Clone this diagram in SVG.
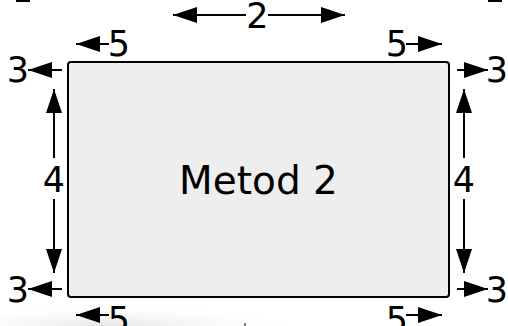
<svg xmlns="http://www.w3.org/2000/svg" width="508" height="326" viewBox="0 0 508 326">
<style>
.t{font-family:"DejaVu Sans",sans-serif;fill:#000;text-anchor:middle}
.d{font-size:35px}
.c{stroke:#000;stroke-width:2;fill:none;marker-end:url(#ah)}
</style>
<defs>
<marker id="ah" markerUnits="userSpaceOnUse" markerWidth="26" markerHeight="18" refX="24" refY="8" orient="auto">
<path d="M0,0 L24,8 L0,16 z" fill="#000"/>
</marker>
<radialGradient id="sh" cx="0.35" cy="1" r="0.6">
<stop offset="0" stop-color="#e4e4e4"/>
<stop offset="1" stop-color="#ffffff" stop-opacity="0"/>
</radialGradient>
</defs>
<rect width="508" height="326" fill="#fff"/>
<rect x="0" y="290" width="320" height="36" fill="url(#sh)"/>
<rect x="16" y="0" width="14" height="2" fill="#000"/>
<rect x="488" y="0" width="14" height="2" fill="#000"/>
<line x1="245" y1="323" x2="245" y2="326" stroke="#000" stroke-width="1"/>
<g id="box">
<rect x="68" y="62" width="381" height="235" rx="3" fill="#eeeeee" stroke="#000" stroke-width="2"/>
<text class="t" x="258.5" y="194" font-size="39">Metod 2</text>
</g>
<g id="connectors">
<line class="c" x1="246" y1="15" x2="173" y2="15"/>
<line class="c" x1="268" y1="15" x2="345" y2="15"/>
<line class="c" x1="109" y1="44" x2="76" y2="44"/>
<line class="c" x1="406" y1="44" x2="442" y2="44"/>
<line class="c" x1="62" y1="70" x2="28" y2="70"/>
<line class="c" x1="457" y1="70" x2="488" y2="70"/>
<line class="c" x1="54" y1="158" x2="54" y2="89"/>
<line class="c" x1="54" y1="199" x2="54" y2="273"/>
<line class="c" x1="464" y1="158" x2="464" y2="89"/>
<line class="c" x1="464" y1="199" x2="464" y2="273"/>
<line class="c" x1="62" y1="289" x2="28" y2="289"/>
<line class="c" x1="457" y1="289" x2="488" y2="289"/>
<line class="c" x1="109" y1="315" x2="76" y2="315"/>
<line class="c" x1="406" y1="315" x2="442" y2="315"/>
</g>
<g id="labels">
<text class="t d" x="257.5" y="28">2</text>
<text class="t d" x="119" y="56">5</text>
<text class="t d" x="397" y="56">5</text>
<text class="t d" x="18" y="82">3</text>
<text class="t d" x="497" y="82">3</text>
<text class="t d" x="54" y="192">4</text>
<text class="t d" x="464" y="192">4</text>
<text class="t d" x="18" y="302">3</text>
<text class="t d" x="497" y="302">3</text>
<text class="t d" x="119" y="332">5</text>
<text class="t d" x="397" y="332">5</text>
</g>
</svg>
